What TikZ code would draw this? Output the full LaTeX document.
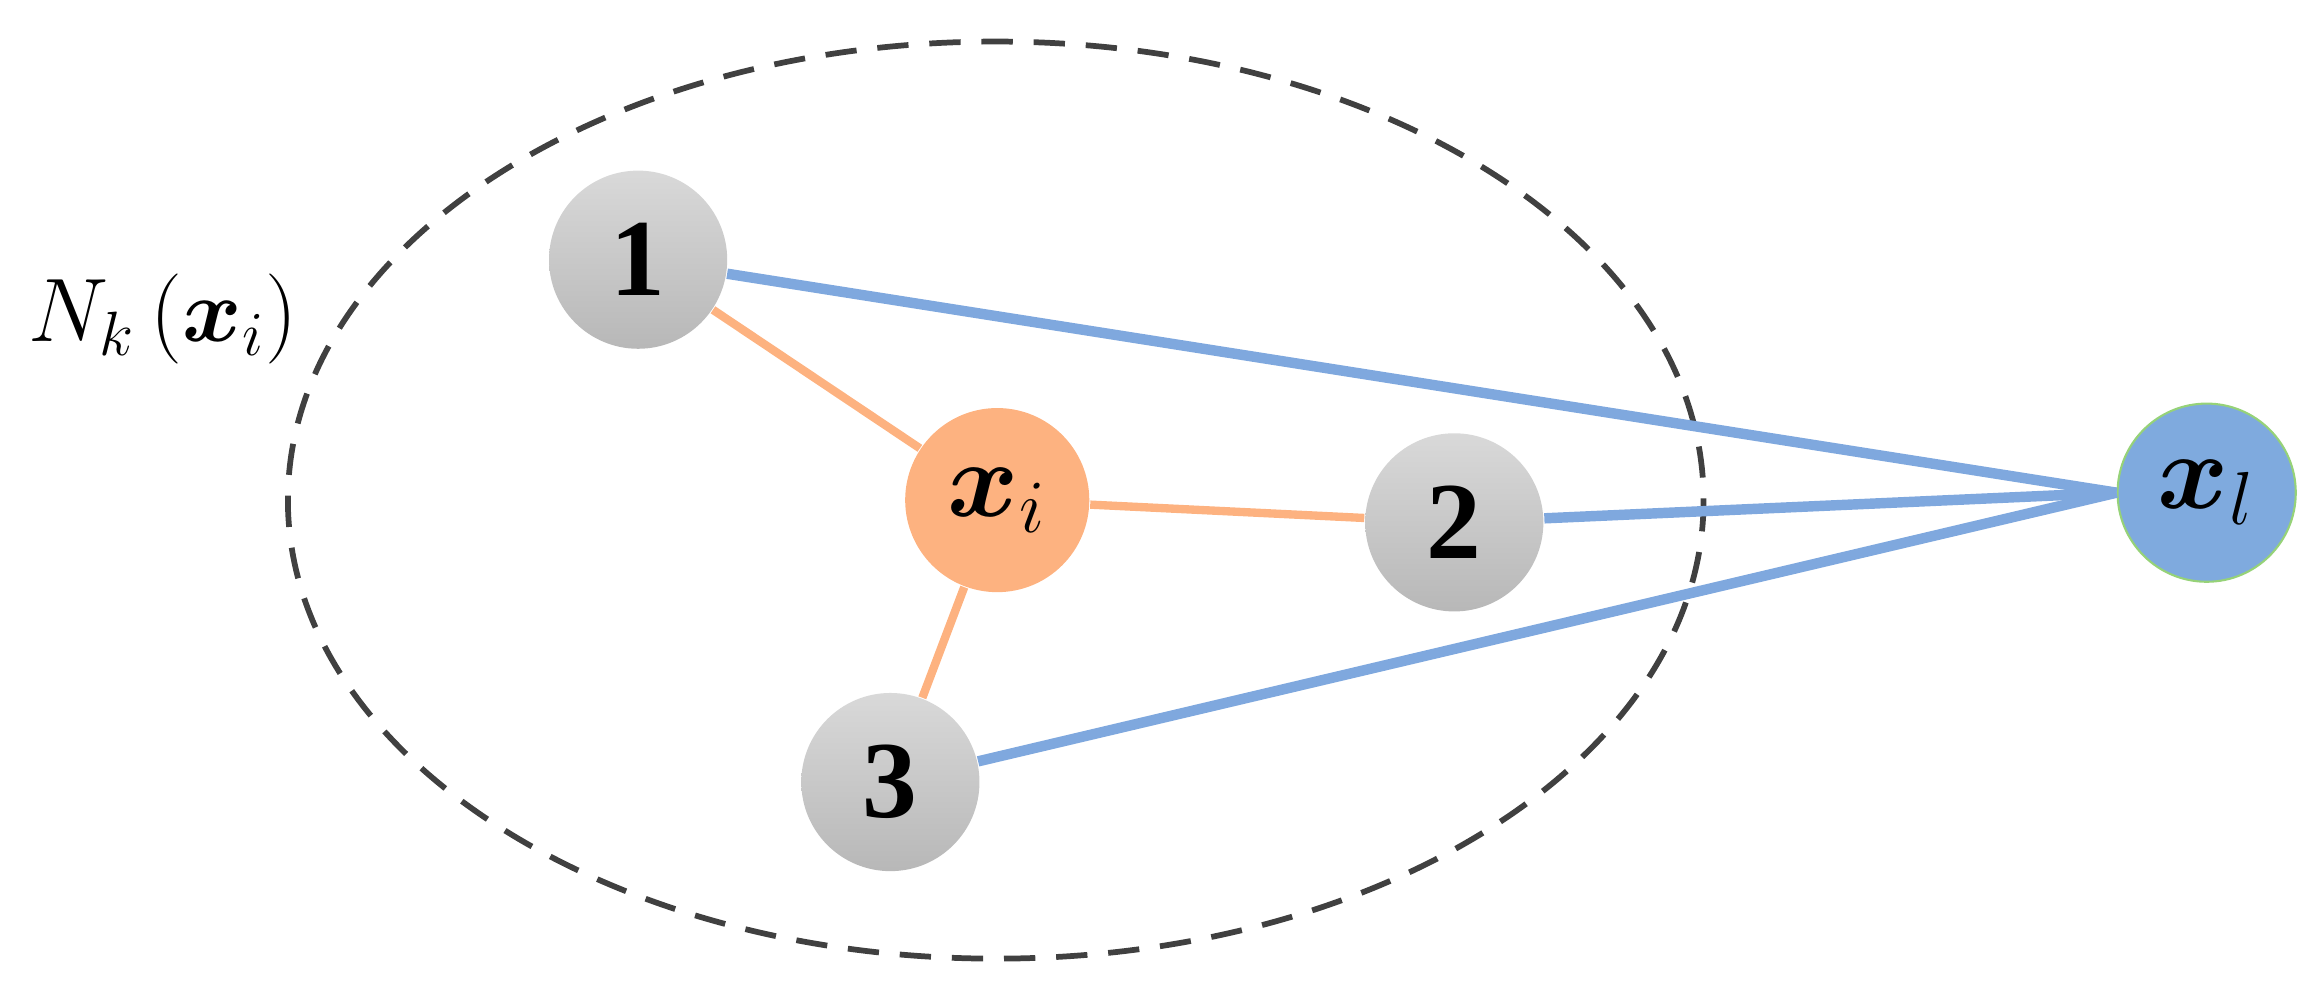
\documentclass[tikz,border=0pt]{standalone}
\usepackage{amsmath,amssymb,bm}
\usepackage{fontspec}
\setmainfont{Liberation Serif}
\begin{document}
\begin{tikzpicture}[x=0.01cm,y=-0.01cm,
  gnode/.style={circle,minimum size=1.2cm,inner sep=0pt,top color=black!15,bottom color=black!28,draw=none,font=\fontsize{21}{24}\selectfont\bfseries},
  onode/.style={circle,minimum size=1.24cm,inner sep=0pt,fill={rgb,255:red,253;green,178;blue,128}},
  bnode/.style={circle,minimum size=1.2cm,inner sep=0pt,fill={rgb,255:red,127;green,170;blue,222},draw={rgb,255:red,150;green,210;blue,120},thin},
  oedge/.style={draw={rgb,255:red,253;green,178;blue,128},line width=1.6pt},
  bedge/.style={draw={rgb,255:red,127;green,168;blue,222},line width=2pt}]
\useasboundingbox (0,0) rectangle (1560,667);
\draw[line width=1.1pt,black!75,dash pattern=on 6pt off 4pt] (671,337) ellipse [x radius=477,y radius=309];
\node[gnode] (n1) at (430,175) {1};
\node[onode] (xi) at (672,337) {\fontsize{22}{24}\selectfont$\bm{x}_{i}$};
\node[gnode] (n2) at (980,352) {2};
\node[gnode] (n3) at (600,527) {3};
\node[bnode] (xl) at (1487,332) {\fontsize{22}{24}\selectfont$\bm{x}_{l}$};
\node (lab) at (110,215) {\fontsize{18}{20}\selectfont$N_{k}\left(\bm{x}_{i}\right)$};
\draw[oedge] (n1) -- (xi);
\draw[oedge] (xi) -- (n2);
\draw[oedge] (xi) -- (n3);
\draw[bedge] (n1) -- (xl.west);
\draw[bedge] (n2) -- (xl.west);
\draw[bedge] (n3) -- (xl.west);
\end{tikzpicture}
\end{document}
